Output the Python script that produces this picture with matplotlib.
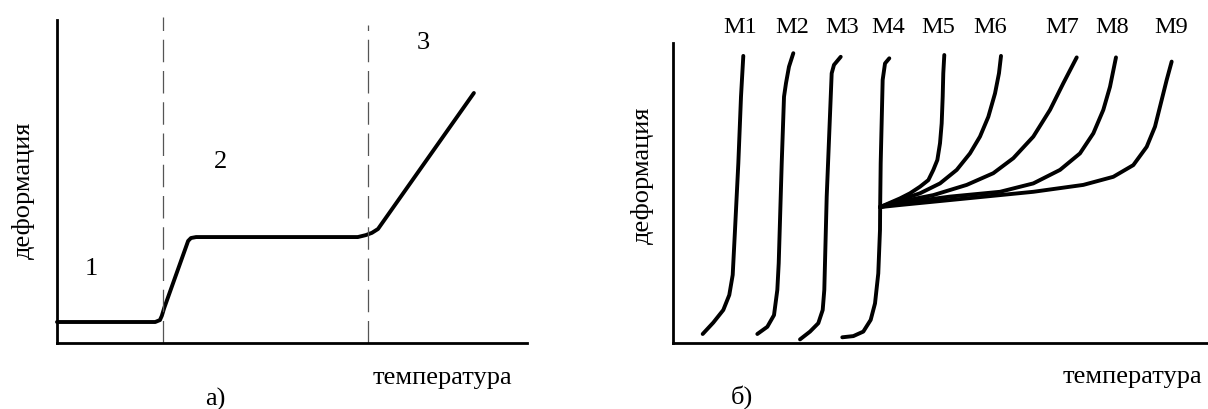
import matplotlib
matplotlib.use("Agg")
import matplotlib.pyplot as plt

plt.rcParams['font.family'] = ['Liberation Serif', 'DejaVu Serif']

# ---- Panel a) data (temperature, deformation in arbitrary units 0..100)
a_temp = [0, 20.9, 21.9, 22.3, 22.8, 27.9, 28.5, 29.6, 64.0, 65.7, 67.0, 68.3, 88.7]
a_def = [6.5, 6.5, 7.1, 8.4, 10.8, 31.6, 32.5, 32.8, 32.8, 33.4, 34.1, 35.3, 77.4]
a_borders = [22.55, 66.2]
a_border_tops = [101.0, 98.5]
a_region_labels = ['1', '2', '3']
a_region_x = [7.4, 34.7, 77.9]
a_region_y = [22.9, 56.0, 92.9]

# ---- Panel б) data
b_names = ['M1', 'M2', 'M3', 'M4', 'M5', 'M6', 'M7', 'M8', 'M9']
b_label_x = [12.6, 22.2, 31.6, 40.3, 49.6, 59.3, 72.7, 82.0, 93.1]
b_label_y = 105.3
m1_t = [5.55, 7.53, 9.40, 10.52, 11.16, 11.59, 12.21, 12.71, 13.14]
m1_d = [3.0, 6.8, 11.0, 16.0, 22.7, 37.7, 59.9, 82.1, 95.7]
m2_t = [15.76, 17.63, 18.88, 19.50, 19.76, 20.32, 20.75, 21.12, 21.68, 22.49]
m2_d = [3.0, 5.4, 9.3, 17.7, 26.6, 59.9, 82.1, 86.6, 92.1, 96.6]
m3_t = [23.74, 25.61, 27.16, 27.98, 28.28, 28.73, 29.66, 30.09, 31.35]
m3_d = [1.2, 3.8, 6.6, 11.0, 17.7, 48.8, 89.9, 92.7, 95.4]
m4_t = [31.64, 33.71, 35.57, 36.95, 37.76, 38.37, 38.69, 38.72, 38.82, 39.19, 39.63, 40.43]
m4_d = [1.9, 2.3, 3.8, 7.7, 13.2, 23.2, 37.7, 45.3, 59.9, 87.7, 93.2, 94.9]
m5_t = [38.69, 42.43, 44.30, 46.17, 47.73, 48.66, 49.41, 49.91, 50.22, 50.41, 50.52, 50.71]
m5_d = [45.3, 48.2, 49.9, 52.1, 54.3, 57.7, 61.0, 66.6, 73.2, 82.1, 89.9, 96.0]
m6_t = [38.69, 42.43, 46.17, 49.91, 53.03, 55.51, 57.38, 58.94, 60.19, 60.93, 61.31]
m6_d = [45.3, 47.7, 49.9, 53.2, 57.7, 63.2, 68.8, 75.4, 83.2, 89.9, 95.7]
m7_t = [38.69, 42.43, 48.66, 54.90, 59.87, 63.61, 67.35, 70.47, 72.96, 75.46]
m7_d = [45.3, 47.1, 49.3, 52.7, 56.6, 61.6, 68.8, 77.7, 86.6, 95.2]
m8_t = [38.69, 42.43, 51.78, 61.12, 67.35, 72.34, 76.07, 78.57, 80.43, 81.68, 82.80]
m8_d = [45.3, 46.6, 48.8, 50.4, 53.2, 57.7, 63.2, 69.9, 77.7, 85.4, 95.2]
m9_t = [38.69, 42.43, 54.90, 67.35, 76.69, 82.30, 86.04, 88.54, 90.09, 91.34, 92.28, 93.21]
m9_d = [45.3, 46.0, 48.2, 50.4, 52.7, 55.4, 59.3, 65.4, 72.1, 81.0, 87.7, 93.8]
b_curves = [(m1_t, m1_d), (m2_t, m2_d), (m3_t, m3_d), (m4_t, m4_d), (m5_t, m5_d),
            (m6_t, m6_d), (m7_t, m7_d), (m8_t, m8_d), (m9_t, m9_d)]

xlabel = 'температура'
ylabel = 'деформация'

W, H = 1208, 409
fig = plt.figure(figsize=(W / 100, H / 100), dpi=100)

def setup(ax):
    ax.set_xlim(0, 100)
    ax.set_ylim(0, 100)
    for s in ('top', 'right'):
        ax.spines[s].set_visible(False)
    for s in ('left', 'bottom'):
        ax.spines[s].set_linewidth(2.0)
        ax.spines[s].set_color('black')
    ax.set_xticks([])
    ax.set_yticks([])
    ax.patch.set_alpha(0)

line_kw = dict(color='black', lw=2.8, solid_joinstyle='round', solid_capstyle='round', clip_on=False)

# Panel a
axa = fig.add_axes([57 / W, (H - 343) / H, 470 / W, 323 / H])
setup(axa)
axa.plot(a_temp, a_def, **line_kw)
for xb, top in zip(a_borders, a_border_tops):
    axa.plot([xb, xb], [0, top], color='#555555', lw=0.9, ls=(0, (18, 7)), clip_on=False)
for lab, x, y in zip(a_region_labels, a_region_x, a_region_y):
    axa.text(x, y, lab, ha='center', va='center', fontsize=19)
axa.text(-0.072, 0.474, ylabel, rotation=90, ha='center', va='center', fontsize=19, transform=axa.transAxes)
axa.text(0.821, -0.108, xlabel, ha='center', va='center', fontsize=19, transform=axa.transAxes)
axa.text(0.336, -0.176, 'а)', ha='center', va='center', fontsize=19, transform=axa.transAxes)

# Panel b
axb = fig.add_axes([673 / W, (H - 343) / H, 535 / W, 300 / H])
setup(axb)
for t, d in b_curves:
    axb.plot(t, d, **line_kw)
for name, x in zip(b_names, b_label_x):
    axb.text(x, b_label_y, name, ha='center', va='center', fontsize=17.5)
axb.text(-0.058, 0.56, ylabel, rotation=90, ha='center', va='center', fontsize=19, transform=axb.transAxes)
axb.text(0.859, -0.113, xlabel, ha='center', va='center', fontsize=19, transform=axb.transAxes)
axb.text(0.129, -0.18, 'б)', ha='center', va='center', fontsize=19, transform=axb.transAxes)

fig.savefig('out.png', dpi=100)
